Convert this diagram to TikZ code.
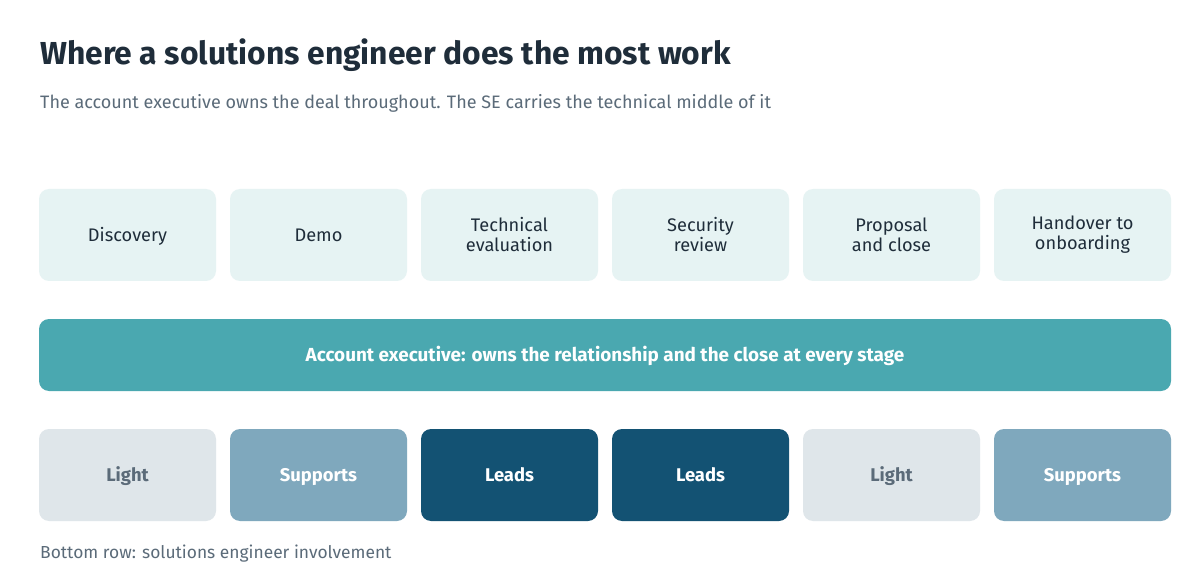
\documentclass[tikz,border=0pt]{standalone}
\usepackage{fontspec}
\setmainfont{Fira Sans}
\definecolor{titlec}{HTML}{1F2D3A}
\definecolor{subc}{HTML}{5B6B79}
\definecolor{stagefill}{HTML}{E6F3F3}
\definecolor{aefill}{HTML}{4AA8B0}
\definecolor{lightfill}{HTML}{DFE6EA}
\definecolor{supfill}{HTML}{7FA8BD}
\definecolor{leadfill}{HTML}{135273}
\begin{document}
\begin{tikzpicture}[x=1pt,y=-1pt,
  box/.style={rounded corners=10pt,minimum width=177pt,minimum height=92pt,inner sep=0pt,align=center,font=\fontsize{18.2}{20}\selectfont},
  oneline/.style={text height=16pt,text depth=3pt},
  stage/.style={box,fill=stagefill,text=titlec},
  lightbox/.style={box,oneline,fill=lightfill,text=subc,font=\fontsize{18.4}{20}\selectfont\bfseries},
  supbox/.style={box,oneline,fill=supfill,text=white,font=\fontsize{18.4}{20}\selectfont\bfseries},
  leadbox/.style={box,oneline,fill=leadfill,text=white,font=\fontsize{18.4}{20}\selectfont\bfseries}]
\useasboundingbox (0,0) rectangle (1200,580);
\fill[white] (0,0) rectangle (1200,580);
\node[anchor=base west,text=titlec,font=\fontsize{31.8}{36}\selectfont\bfseries,inner sep=0pt] (title) at (40,65) {Where a solutions engineer does the most work};
\node[anchor=base west,text=subc,font=\fontsize{18}{21}\selectfont,inner sep=0pt] (sub) at (40,109) {The account executive owns the deal throughout. The SE carries the technical middle of it};
\node[stage,oneline] (s1) at (127.5,235) {Discovery};
\node[stage,oneline] (s2) at (318.5,235) {Demo};
\node[stage] (s3) at (509.5,235) {Technical\\evaluation};
\node[stage] (s4) at (700.5,235) {Security\\review};
\node[stage] (s5) at (891.5,235) {Proposal\\and close};
\node[stage] (s6) at (1082.5,235) {Handover to\\onboarding};
\node[box,oneline,fill=aefill,text=white,minimum width=1132pt,minimum height=72pt,font=\fontsize{18.9}{22}\selectfont\bfseries] (ae) at (605,355) {Account executive: owns the relationship and the close at every stage};
\node[lightbox] (b1) at (127.5,475) {Light};
\node[supbox] (b2) at (318.5,475) {Supports};
\node[leadbox] (b3) at (509.5,475) {Leads};
\node[leadbox] (b4) at (700.5,475) {Leads};
\node[lightbox] (b5) at (891.5,475) {Light};
\node[supbox] (b6) at (1082.5,475) {Supports};
\node[anchor=base west,text=subc,font=\fontsize{17.4}{20}\selectfont,inner sep=0pt] (cap) at (40,558) {Bottom row: solutions engineer involvement};
\end{tikzpicture}
\end{document}
